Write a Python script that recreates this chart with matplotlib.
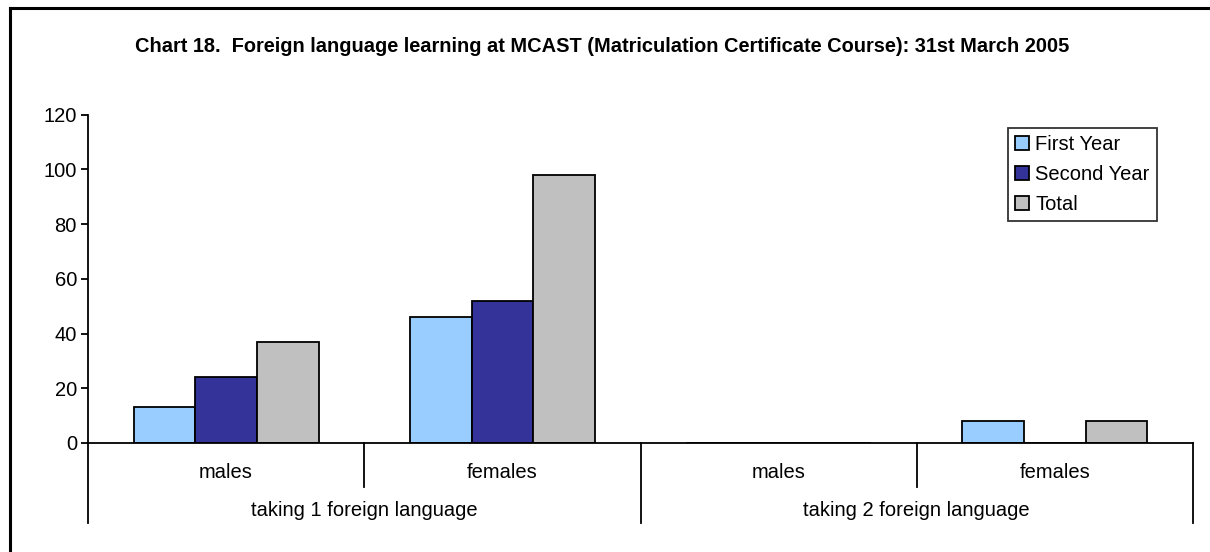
import matplotlib.pyplot as plt
from matplotlib.lines import Line2D
from matplotlib.patches import Patch
import numpy as np

plt.rcParams['font.family'] = ['Liberation Sans', 'DejaVu Sans']

# data
groups = ['taking 1 foreign language', 'taking 2 foreign language']
sexes = ['males', 'females', 'males', 'females']
series = ['First Year', 'Second Year', 'Total']
first_year = [13, 46, 0, 8]
second_year = [24, 52, 0, 0]
total = [37, 98, 0, 8]
colors = ['#99CCFF', '#333399', '#C0C0C0']

W, H = 1210, 552
fig = plt.figure(figsize=(W / 100, H / 100), dpi=100)
ax = fig.add_axes([88 / W, 1 - 443 / H, (1193 - 88) / W, (443 - 114.5) / H])

x = np.arange(len(sexes)) + 0.5
bw = 0.223
for i, (vals, c) in enumerate(zip([first_year, second_year, total], colors)):
    ax.bar(x + (i - 1) * bw, vals, width=bw, color=c, edgecolor='black',
           linewidth=1.3, zorder=2)

fs = 14.5
ax.set_xlim(0, 4)
ax.set_ylim(0, 120)
ax.set_yticks(range(0, 121, 20))
ax.tick_params(axis='y', labelsize=fs, length=5, width=1.3, direction='out', pad=3)
ax.set_xticks([])
ax.spines['top'].set_visible(False)
ax.spines['right'].set_visible(False)
ax.spines['left'].set_linewidth(1.3)
ax.spines['bottom'].set_linewidth(1.3)

# category axis dividers and labels
trans = ax.get_xaxis_transform()
ppu = 443 - 114.5
for xv, low in [(0, 523), (1, 487), (2, 523), (3, 487), (4, 523)]:
    ax.add_line(Line2D([xv, xv], [0, -(low - 443) / ppu], transform=trans,
                       color='black', lw=1.3, clip_on=False))
for xv, s in zip(x, sexes):
    ax.text(xv, -(472 - 443) / ppu, s, transform=trans, ha='center', va='center',
            fontsize=fs)
for k, g in enumerate(groups):
    ax.text(2 * k + 1, -(510 - 443) / ppu, g, transform=trans, ha='center',
            va='center', fontsize=fs)

handles = [Patch(facecolor=c, edgecolor='black', linewidth=1.3) for c in colors]
leg = ax.legend(handles, series, loc='upper left', bbox_to_anchor=(1008 / W, 1 - 128 / H),
                bbox_transform=fig.transFigure, fontsize=fs, frameon=True,
                fancybox=False, edgecolor='black', handlelength=0.7, handleheight=0.7,
                handletextpad=0.3, borderpad=0.35, labelspacing=0.55, borderaxespad=0)
leg.get_frame().set_linewidth(1.3)

fig.text(602 / W, 1 - 46 / H,
         'Chart 18.  Foreign language learning at MCAST (Matriculation Certificate Course): 31st March 2005',
         ha='center', va='center', fontsize=14.4, fontweight='bold')

# outer chart border (top and left visible)
fig.add_artist(Line2D([10 / W, 1.0], [1 - 8 / H, 1 - 8 / H], transform=fig.transFigure,
                      color='black', lw=2.2))
fig.add_artist(Line2D([10 / W, 10 / W], [0, 1 - 8 / H], transform=fig.transFigure,
                      color='black', lw=2.2))

fig.savefig('out.png', dpi=100)
